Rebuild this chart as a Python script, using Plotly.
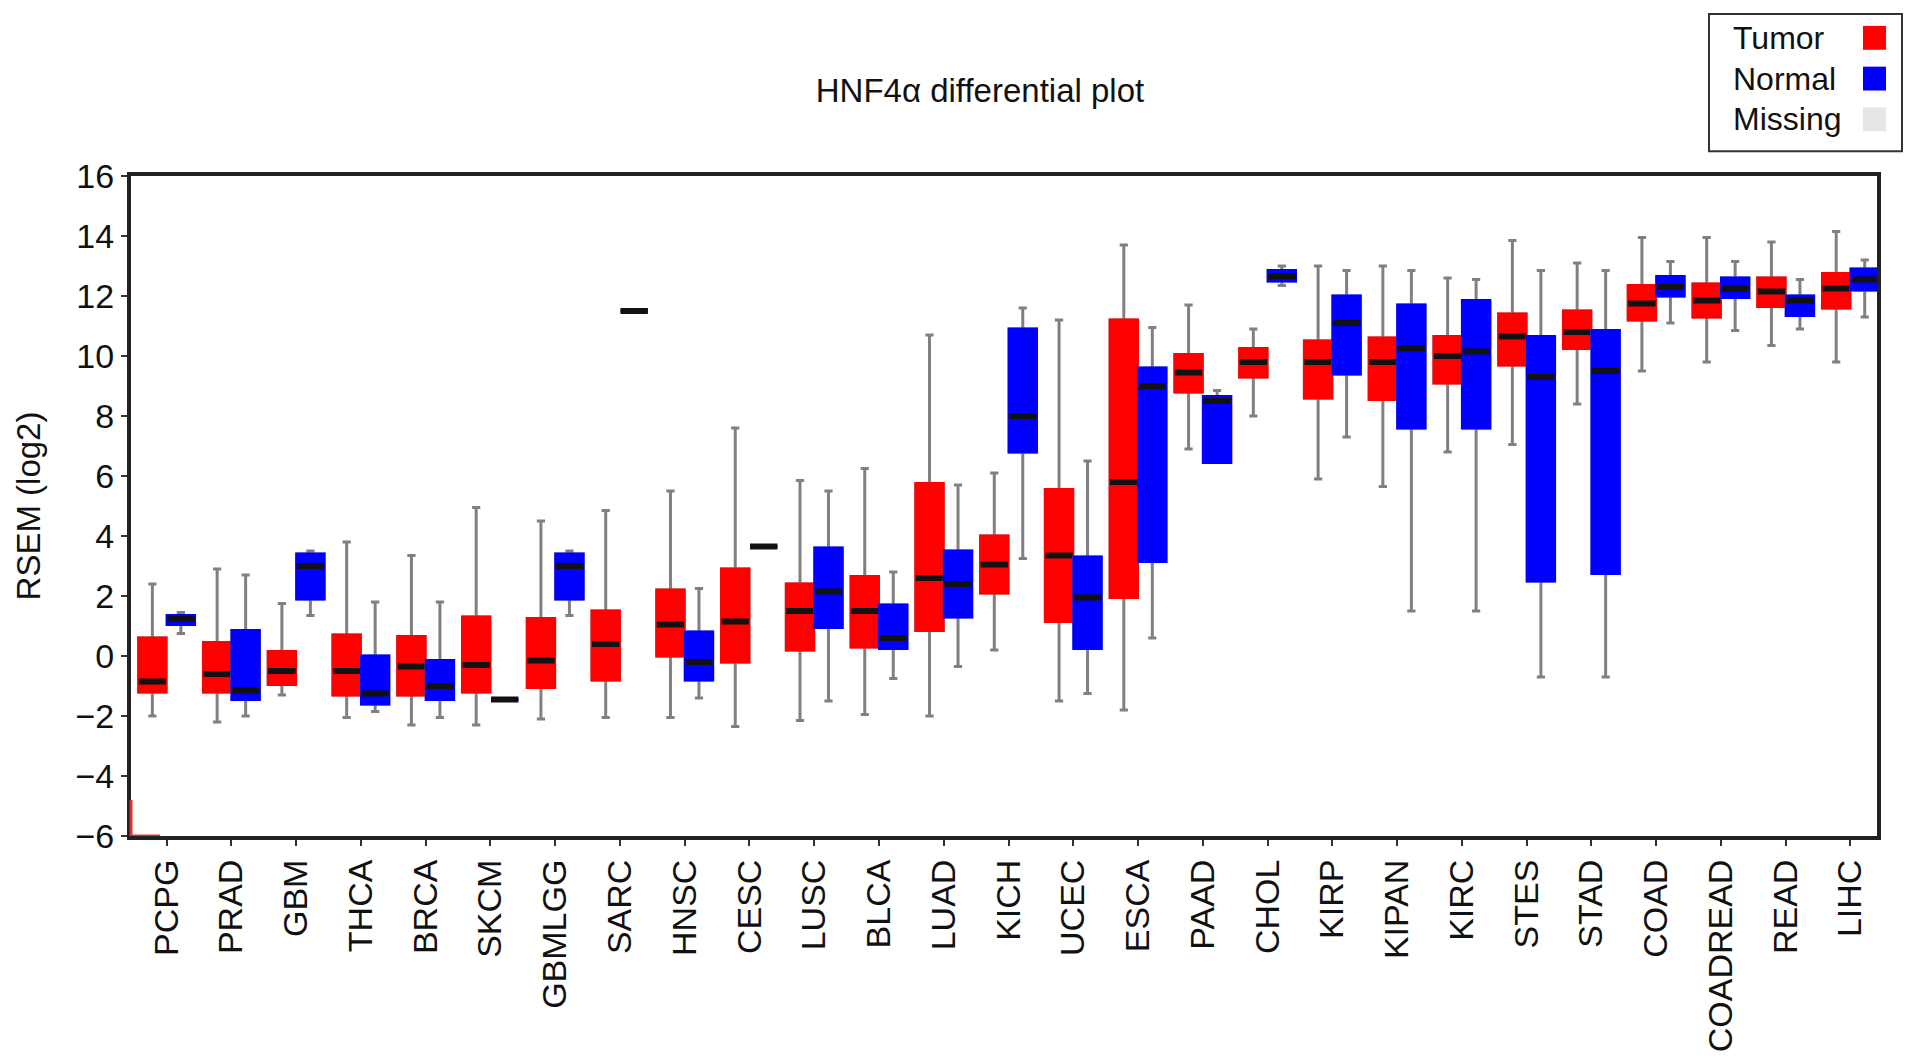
import plotly.graph_objects as go

# cancer types, left to right
cats = ["PCPG", "PRAD", "GBM", "THCA", "BRCA", "SKCM", "GBMLGG", "SARC", "HNSC",
        "CESC", "LUSC", "BLCA", "LUAD", "KICH", "UCEC", "ESCA", "PAAD", "CHOL",
        "KIRP", "KIPAN", "KIRC", "STES", "STAD", "COAD", "COADREAD", "READ", "LIHC"]

# tumor box stats (log2 RSEM)
t_lo = [-2.0, -2.2, -1.3, -2.05, -2.3, -2.3, -2.1, -2.05, -2.05, -2.35, -2.15, -1.95, -2.0, 0.2,
        -1.5, -1.8, 6.9, 8.0, 5.9, 5.65, 6.8, 7.05, 8.4, 9.5, 9.8, 10.35, 9.8]
t_q1 = [-1.2, -1.2, -0.95, -1.3, -1.3, -1.2, -1.05, -0.8, 0.0, -0.2, 0.2, 0.3, 0.85, 2.1,
        1.15, 1.95, 8.8, 9.3, 8.6, 8.55, 9.1, 9.7, 10.25, 11.2, 11.3, 11.65, 11.6]
t_med = [-0.85, -0.6, -0.5, -0.5, -0.35, -0.3, -0.15, 0.4, 1.05, 1.15, 1.5, 1.5, 2.6, 3.05,
         3.35, 5.8, 9.45, 9.8, 9.8, 9.8, 10.0, 10.65, 10.8, 11.75, 11.85, 12.15, 12.25]
t_q3 = [0.6, 0.45, 0.15, 0.7, 0.65, 1.3, 1.25, 1.5, 2.2, 2.9, 2.4, 2.65, 5.75, 4.0,
        5.55, 11.2, 10.05, 10.25, 10.5, 10.6, 10.65, 11.4, 11.5, 12.35, 12.4, 12.6, 12.75]
t_hi = [2.4, 2.9, 1.75, 3.8, 3.35, 4.95, 4.5, 4.85, 5.5, 7.6, 5.85, 6.25, 10.7, 6.1,
        11.2, 13.7, 11.7, 10.9, 13.0, 13.0, 12.6, 13.85, 13.1, 13.95, 13.95, 13.8, 14.15]

# normal box stats
n_lo = [0.75, -2.0, 1.35, -1.85, -2.05, -1.45, 1.35, 11.5, -1.4, 3.65, -1.5, -0.75, -0.35, 3.25,
        -1.25, 0.6, 6.45, 12.35, 7.3, 1.5, 1.5, -0.7, -0.7, 11.1, 10.85, 10.9, 11.3]
n_q1 = [1.05, -1.45, 1.9, -1.6, -1.45, -1.45, 1.9, 11.5, -0.8, 3.65, 0.95, 0.25, 1.3, 6.8,
        0.25, 3.15, 6.45, 12.5, 9.4, 7.6, 7.6, 2.5, 2.75, 12.0, 11.95, 11.35, 12.2]
n_med = [1.25, -1.15, 3.0, -1.25, -1.0, -1.45, 3.0, 11.5, -0.2, 3.65, 2.15, 0.6, 2.4, 8.0,
         1.95, 9.0, 8.5, 12.65, 11.1, 10.25, 10.15, 9.3, 9.5, 12.3, 12.25, 11.85, 12.55]
n_q3 = [1.35, 0.85, 3.4, 0.0, -0.15, -1.45, 3.4, 11.5, 0.8, 3.65, 3.6, 1.7, 3.5, 10.9,
        3.3, 9.6, 8.65, 12.85, 12.0, 11.7, 11.85, 10.65, 10.85, 12.65, 12.6, 12.0, 12.9]
n_hi = [1.45, 2.7, 3.5, 1.8, 1.8, -1.45, 3.5, 11.5, 2.25, 3.65, 5.5, 2.8, 5.7, 11.6,
        6.5, 10.95, 8.85, 13.0, 12.85, 12.85, 12.55, 12.85, 12.85, 13.15, 13.15, 12.55, 13.2]

RED = "#ff0000"
BLUE = "#0000ff"
WHISK = "#808080"

fig = go.Figure()


def add_group(name, color, lo, q1, med, q3, hi):
    # whiskers (gray)
    fig.add_trace(go.Box(x=cats, q1=q1, median=med, q3=q3, lowerfence=lo, upperfence=hi,
                         fillcolor=color, line=dict(color=WHISK, width=3), whiskerwidth=0.3,
                         boxpoints=False, offsetgroup=name, showlegend=False, hoverinfo="skip"))
    # box body in solid colour
    fig.add_trace(go.Box(x=cats, q1=q1, median=med, q3=q3, lowerfence=q1, upperfence=q3,
                         fillcolor=color, line=dict(color=color, width=3), whiskerwidth=0,
                         boxpoints=False, offsetgroup=name, showlegend=False, hoverinfo="skip"))
    # black median bar
    fig.add_trace(go.Box(x=cats, q1=med, median=med, q3=med, lowerfence=med, upperfence=med,
                         fillcolor="black", line=dict(color="#111111", width=6), whiskerwidth=0,
                         boxpoints=False, offsetgroup=name, showlegend=False, name=name))


add_group("Tumor", RED, t_lo, t_q1, t_med, t_q3, t_hi)
add_group("Normal", BLUE, n_lo, n_q1, n_med, n_q3, n_hi)

x_range = [-0.55, 26.41]
L, R, T, B = 123, 44, 168, 224

fig.update_layout(
    width=1913, height=1056,
    margin=dict(l=L, r=R, t=T, b=B),
    paper_bgcolor="white", plot_bgcolor="white",
    font=dict(family="Liberation Sans, Arial, sans-serif", color="#111111"),
    boxmode="group", boxgap=0.12, boxgroupgap=0.04,
    showlegend=False,
    title=dict(text="HNF4α differential plot", x=972 / 1913, xanchor="center",
               y=1 - 82 / 1056, yanchor="middle", font=dict(size=33)),
)

fig.update_xaxes(type="category", range=x_range, tickangle=-90, tickfont=dict(size=34),
                 ticks="outside", ticklen=6, tickwidth=2, tickcolor="#333",
                 showline=True, mirror=True, linewidth=4, linecolor="#222",
                 showgrid=False)
fig.update_yaxes(range=[-6, 16], dtick=2, tickfont=dict(size=34),
                 ticks="outside", ticklen=6, tickwidth=2, tickcolor="#333",
                 showline=True, mirror=True, linewidth=4, linecolor="#222",
                 showgrid=False, zeroline=False,
                 title=dict(text="RSEM (log2)", font=dict(size=33), standoff=26))

# red corner marks at the origin
fig.add_shape(type="line", xref="paper", yref="y", x0=0, x1=0, y0=-6, y1=-4.8,
              line=dict(color="#e03030", width=3))
fig.add_shape(type="line", xref="x", yref="y", x0=x_range[0], x1=-0.1, y0=-6, y1=-6,
              line=dict(color="#e03030", width=3))

# legend box (text left, swatch right), placed in pixel terms
W = 1913.0 - L - R
H = 1056.0 - T - B


def px(xp):
    return (xp - L) / W


def py(yp):
    return (1056 - B - yp) / H


fig.add_shape(type="rect", xref="paper", yref="paper", x0=px(1701), x1=px(1894),
              y0=py(143), y1=py(5), line=dict(color="#333", width=2), fillcolor="white")
legend_items = [("Tumor", RED, 29), ("Normal", BLUE, 70), ("Missing", "#e6e6e6", 111)]
for label, col, yc in legend_items:
    fig.add_annotation(text=label, xref="paper", yref="paper", x=px(1723), y=py(yc),
                       xanchor="left", yanchor="middle", showarrow=False,
                       font=dict(size=32, color="#111111"))
    fig.add_shape(type="rect", xref="paper", yref="paper", x0=px(1855), x1=px(1878),
                  y0=py(yc + 12), y1=py(yc - 12), line=dict(width=0), fillcolor=col)

fig.write_html("out.html")
